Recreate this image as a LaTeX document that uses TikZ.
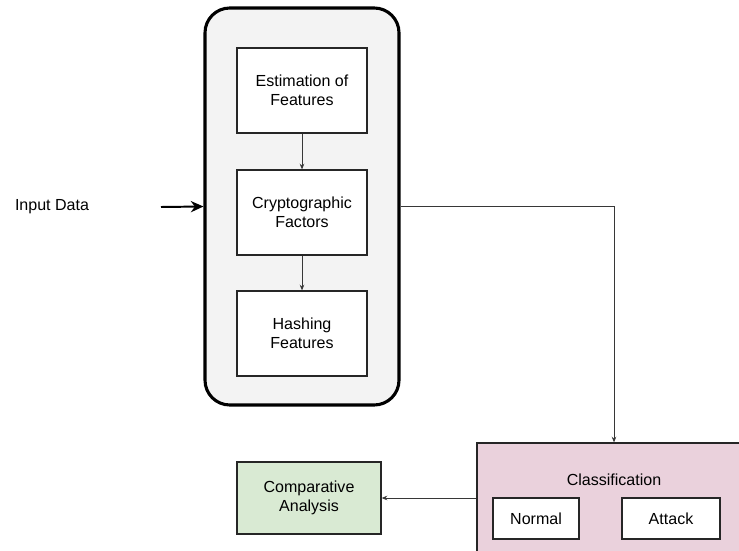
\documentclass[tikz,border=0pt]{standalone}
\usepackage{fontspec}
\setmainfont{Liberation Sans}
\usepackage{tikz}
\usetikzlibrary{arrows.meta,positioning}
\definecolor{ingray}{RGB}{243,243,243}
\definecolor{inpink}{RGB}{234,209,220}
\definecolor{ingreen}{RGB}{217,234,211}
\definecolor{inline}{RGB}{55,55,55}

\begin{document}
\begin{tikzpicture}[
    stage/.style={rectangle, draw=black!85, line width=0.9pt, fill=white, minimum width=3.25cm, minimum height=2.125cm, align=center, font=\fontsize{11.4}{13.2}\selectfont},
    frame/.style={rectangle, rounded corners=0.62cm, draw=black, line width=2.2pt, fill=ingray, minimum width=4.85cm, minimum height=9.925cm},
    flow/.style={-{Stealth[length=4pt,width=3.2pt]}, inline, line width=0.5pt},
    feed/.style={-{Stealth[length=9pt,width=8pt]}, black, line width=1.4pt}
]
\useasboundingbox (0,0) rectangle (18.475,-13.775);
\clip (0,0) rectangle (18.475,-13.775);

\node[frame] (outer) at (7.55,-5.1625) {};
\node[stage] (est) at (7.55,-2.2625) {Estimation of\\Features};
\node[stage] (crypt) at (7.55,-5.3125) {Cryptographic\\Factors};
\node[stage] (hash) at (7.55,-8.3375) {Hashing\\Features};

\node[font=\fontsize{11.4}{13.2}\selectfont] (input) at (1.3,-5.175) {Input Data};
\coordinate (feedstart) at (4.025,-5.175);

\node[rectangle, draw=black!85, line width=0.9pt, fill=inpink, minimum width=6.85cm, minimum height=3.425cm] (cls) at (15.35,-12.7875) {};
\node[font=\fontsize{11.4}{13.2}\selectfont] (clslabel) at (15.35,-12.0) {Classification};
\node[stage, minimum width=2.15cm, minimum height=1.025cm] (normal) at (13.4,-12.9625) {Normal};
\node[stage, minimum width=2.45cm, minimum height=1.025cm] (attack) at (16.775,-12.9625) {Attack};

\node[stage, fill=ingreen, minimum width=3.6cm, minimum height=1.8cm] (comp) at (7.725,-12.45) {Comparative\\Analysis};

\draw[flow] (est) -- (crypt);
\draw[flow] (crypt) -- (hash);
\draw[feed] (feedstart) -- (outer.west);
\draw[flow] (outer.east) -| (cls.north);
\draw[flow] (cls.west |- comp.east) -- (comp.east);

\end{tikzpicture}
\end{document}
